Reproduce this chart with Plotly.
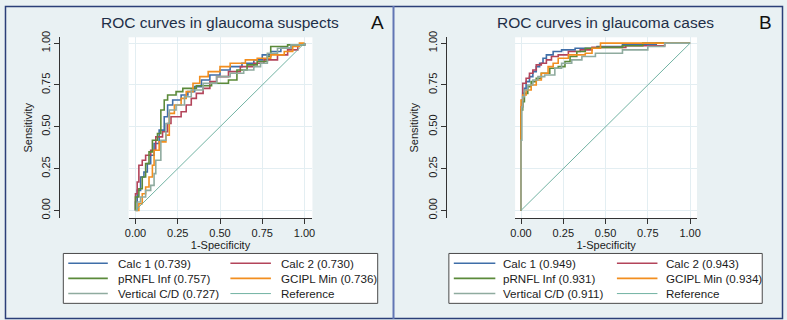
import plotly.graph_objects as go

W, H = 787, 320

# ---------------- data ----------------
labels = ["Calc 1", "Calc 2", "pRNFL Inf", "GCIPL Min", "Vertical C/D"]
colors = ["#3f6ea8", "#b3445a", "#5b8a3a", "#f28e1f", "#8fab9f"]
ref_color = "#72b3a3"

auc_suspects = [0.739, 0.730, 0.757, 0.736, 0.727]
auc_cases = [0.949, 0.943, 0.931, 0.934, 0.911]

# Panel A: glaucoma suspects (1-specificity, sensitivity)
s_calc1_fpr = [0, 0, 0.01, 0.03, 0.05, 0.07, 0.09, 0.11, 0.14, 0.17, 0.19, 0.22, 0.27, 0.31, 0.35, 0.39, 0.44, 0.50, 0.56, 0.63, 0.70, 0.75, 0.80, 0.86, 0.92, 1.0]
s_calc1_tpr = [0, 0.05, 0.12, 0.20, 0.23, 0.28, 0.33, 0.40, 0.48, 0.56, 0.63, 0.66, 0.69, 0.71, 0.74, 0.78, 0.81, 0.84, 0.86, 0.88, 0.90, 0.93, 0.95, 0.97, 0.99, 1.0]
s_calc2_fpr = [0, 0, 0.01, 0.02, 0.04, 0.06, 0.09, 0.12, 0.16, 0.19, 0.21, 0.27, 0.30, 0.33, 0.36, 0.40, 0.44, 0.48, 0.55, 0.62, 0.70, 0.76, 0.84, 0.90, 0.96, 1.0]
s_calc2_tpr = [0, 0.10, 0.17, 0.27, 0.30, 0.33, 0.36, 0.44, 0.47, 0.52, 0.56, 0.59, 0.63, 0.67, 0.70, 0.73, 0.77, 0.80, 0.83, 0.86, 0.88, 0.90, 0.93, 0.96, 0.99, 1.0]
s_prnfl_fpr = [0, 0, 0.02, 0.04, 0.06, 0.08, 0.10, 0.13, 0.15, 0.17, 0.19, 0.24, 0.28, 0.36, 0.45, 0.55, 0.60, 0.66, 0.72, 0.78, 0.80, 0.90, 1.0]
s_prnfl_tpr = [0, 0.08, 0.13, 0.20, 0.28, 0.35, 0.42, 0.46, 0.60, 0.66, 0.69, 0.71, 0.73, 0.745, 0.76, 0.78, 0.84, 0.87, 0.89, 0.92, 0.98, 0.99, 1.0]
s_gcipl_fpr = [0, 0.02, 0.04, 0.06, 0.08, 0.10, 0.11, 0.14, 0.18, 0.20, 0.23, 0.27, 0.30, 0.34, 0.38, 0.43, 0.50, 0.56, 0.65, 0.72, 0.80, 0.88, 0.93, 0.97, 1.0]
s_gcipl_tpr = [0, 0.04, 0.10, 0.14, 0.20, 0.27, 0.36, 0.41, 0.45, 0.58, 0.63, 0.67, 0.71, 0.76, 0.80, 0.83, 0.86, 0.88, 0.90, 0.91, 0.93, 0.95, 0.98, 1.0, 1.0]
s_vcd_fpr = [0, 0.01, 0.03, 0.06, 0.09, 0.11, 0.12, 0.15, 0.18, 0.20, 0.24, 0.29, 0.33, 0.40, 0.48, 0.56, 0.64, 0.70, 0.74, 0.78, 0.84, 0.92, 1.0]
s_vcd_tpr = [0, 0.05, 0.08, 0.12, 0.15, 0.22, 0.30, 0.42, 0.52, 0.60, 0.63, 0.68, 0.72, 0.76, 0.80, 0.82, 0.84, 0.86, 0.88, 0.94, 0.97, 0.99, 1.0]

# Panel B: glaucoma cases
c_calc1_fpr = [0, 0, 0.005, 0.01, 0.02, 0.03, 0.05, 0.07, 0.09, 0.11, 0.13, 0.15, 0.19, 0.24, 0.32, 0.45, 0.60, 0.80, 1.0]
c_calc1_tpr = [0, 0.60, 0.66, 0.70, 0.73, 0.77, 0.80, 0.83, 0.86, 0.88, 0.91, 0.93, 0.95, 0.96, 0.97, 0.98, 0.99, 1.0, 1.0]
c_calc2_fpr = [0, 0, 0.01, 0.03, 0.05, 0.07, 0.09, 0.12, 0.15, 0.18, 0.22, 0.28, 0.35, 0.42, 0.62, 0.85, 1.0]
c_calc2_tpr = [0, 0.62, 0.76, 0.79, 0.82, 0.84, 0.87, 0.88, 0.90, 0.92, 0.93, 0.95, 0.96, 0.975, 0.985, 1.0, 1.0]
c_prnfl_fpr = [0, 0, 0.01, 0.02, 0.04, 0.06, 0.09, 0.12, 0.17, 0.22, 0.26, 0.29, 0.33, 0.38, 0.45, 0.60, 0.72, 1.0]
c_prnfl_tpr = [0, 0.60, 0.65, 0.70, 0.74, 0.77, 0.79, 0.82, 0.85, 0.86, 0.89, 0.92, 0.95, 0.97, 0.975, 0.985, 1.0, 1.0]
c_gcipl_fpr = [0, 0, 0.01, 0.03, 0.06, 0.09, 0.12, 0.16, 0.19, 0.22, 0.28, 0.38, 0.42, 0.47, 1.0]
c_gcipl_tpr = [0, 0.66, 0.69, 0.72, 0.75, 0.78, 0.82, 0.86, 0.88, 0.91, 0.93, 0.94, 0.97, 1.0, 1.0]
c_vcd_fpr = [0, 0, 0.005, 0.01, 0.02, 0.04, 0.07, 0.10, 0.14, 0.20, 0.24, 0.30, 0.36, 0.44, 0.60, 0.75, 0.85, 1.0]
c_vcd_tpr = [0, 0.42, 0.62, 0.68, 0.72, 0.75, 0.78, 0.80, 0.81, 0.85, 0.88, 0.90, 0.92, 0.94, 0.96, 0.98, 1.0, 1.0]

ref_x = [0, 1]
ref_y = [0, 1]

tick_vals = [0, 0.25, 0.5, 0.75, 1.0]
tick_text = ["0.00", "0.25", "0.50", "0.75", "1.00"]

titles = ["ROC curves in glaucoma suspects", "ROC curves in glaucoma cases"]
panel_letters = ["A", "B"]
x_title = "1-Specificity"
y_title = "Sensitivity"

suspects = [(s_calc1_fpr, s_calc1_tpr), (s_calc2_fpr, s_calc2_tpr), (s_prnfl_fpr, s_prnfl_tpr),
            (s_gcipl_fpr, s_gcipl_tpr), (s_vcd_fpr, s_vcd_tpr)]
cases = [(c_calc1_fpr, c_calc1_tpr), (c_calc2_fpr, c_calc2_tpr), (c_prnfl_fpr, c_prnfl_tpr),
         (c_gcipl_fpr, c_gcipl_tpr), (c_vcd_fpr, c_vcd_tpr)]

# ---------------- layout helpers (pixels -> paper) ----------------
def fx(px):
    return px / W

def fy(py):
    return 1 - py / H

FONT = "Liberation Sans, Arial, sans-serif"
TXT = "#1b1b1b"
BG = "#e9f1f3"
GRID = "#e3eef2"

# panel geometry (pixels)
panels = [
    dict(x0=125, x1=311, zero=132, yline=55, title_x=217, letter_x=377,
         leg=(59, 377), leg_cols=((64, 104, 112), (228, 269, 277))),
    dict(x0=516, x1=700, zero=522, yline=446, title_x=607, letter_x=769,
         leg=(449, 766), leg_cols=((454, 496, 502), (619, 660, 667))),
]
PY0, PY1 = 32, 217      # plot region top/bottom
Y_ZERO = 209            # pixel of sensitivity 0
UNIT = 171              # pixels per unit

fig = go.Figure()

datasets = [suspects, cases]
aucs = [auc_suspects, auc_cases]
for p, (geo, data) in enumerate(zip(panels, datasets)):
    xa = "x" if p == 0 else "x2"
    ya = "y" if p == 0 else "y2"
    for i, (xs, ys) in enumerate(data):
        fig.add_trace(go.Scatter(x=xs, y=ys, mode="lines", line=dict(color=colors[i], width=1.6, shape="hv"),
                                 xaxis=xa, yaxis=ya, showlegend=False,
                                 name=f"{labels[i]} ({aucs[p][i]:.3f})"))
    fig.add_trace(go.Scatter(x=ref_x, y=ref_y, mode="lines", line=dict(color=ref_color, width=1),
                             xaxis=xa, yaxis=ya, showlegend=False, name="Reference"))

layout = dict(
    width=W, height=H, margin=dict(l=0, r=0, t=0, b=0),
    paper_bgcolor=BG, plot_bgcolor="white",
    font=dict(family=FONT, size=11, color=TXT),
    showlegend=False,
)

shapes = []
annotations = []
for p, geo in enumerate(panels):
    sx = "" if p == 0 else "2"
    xr = [(geo["x0"] - geo["zero"]) / UNIT, (geo["x1"] - geo["zero"]) / UNIT]
    yr = [(Y_ZERO - PY1) / UNIT, (Y_ZERO - PY0) / UNIT]
    layout["xaxis" + sx] = dict(
        domain=[fx(geo["x0"]), fx(geo["x1"])], range=xr, anchor="y" + sx,
        tickvals=tick_vals, ticktext=tick_text, ticks="outside", ticklen=5, tickcolor="#333",
        showline=True, linecolor="#333", linewidth=1, showgrid=True, gridcolor=GRID, gridwidth=1,
        zeroline=False, tickfont=dict(size=11, color=TXT),
        title=dict(text=x_title, font=dict(size=11, color=TXT), standoff=2),
    )
    layout["yaxis" + sx] = dict(
        domain=[fy(PY1), fy(PY0)], range=yr, anchor="free", position=fx(geo["yline"]),
        tickvals=tick_vals, ticktext=tick_text, ticks="outside", ticklen=5, tickcolor="#333",
        showline=True, linecolor="#333", linewidth=1, showgrid=True, gridcolor=GRID, gridwidth=1,
        zeroline=False, tickangle=-90, tickfont=dict(size=11, color=TXT),
        title=dict(text=y_title, font=dict(size=11, color=TXT), standoff=4),
    )
    # titles
    annotations.append(dict(text=titles[p], x=fx(geo["title_x"]), y=fy(17), xref="paper", yref="paper",
                            showarrow=False, xanchor="center", yanchor="middle",
                            font=dict(size=15.5, color="#1e2f48", family=FONT)))
    annotations.append(dict(text=panel_letters[p], x=fx(geo["letter_x"]), y=fy(17), xref="paper", yref="paper",
                            showarrow=False, xanchor="center", yanchor="middle",
                            font=dict(size=19, color="#111", family=FONT)))
    # legend box
    lx0, lx1 = geo["leg"]
    shapes.append(dict(type="rect", xref="paper", yref="paper", x0=fx(lx0), x1=fx(lx1), y0=fy(304), y1=fy(253),
                       line=dict(color="#4a4a4a", width=1), fillcolor="white", layer="below"))
    entries = [(f"{labels[i]} ({aucs[p][i]:.3f})", colors[i], 1.6) for i in range(len(labels))]
    entries.append(("Reference", ref_color, 1))
    rows = [263, 278.5, 294]
    for k, (txt, col, lw) in enumerate(entries):
        r, c = divmod(k, 2)
        l0, l1, tx = geo["leg_cols"][c]
        shapes.append(dict(type="line", xref="paper", yref="paper", x0=fx(l0), x1=fx(l1),
                           y0=fy(rows[r]), y1=fy(rows[r]), line=dict(color=col, width=lw)))
        annotations.append(dict(text=txt, x=fx(tx), y=fy(rows[r]), xref="paper", yref="paper",
                                showarrow=False, xanchor="left", yanchor="middle",
                                font=dict(size=11.6, color=TXT, family=FONT)))

# frame and divider
shapes.append(dict(type="rect", xref="paper", yref="paper", x0=fx(0.5), x1=fx(786.5), y0=fy(319.5), y1=fy(0.5),
                   line=dict(color="#2b3f78", width=1.5)))
shapes.append(dict(type="line", xref="paper", yref="paper", x0=fx(393), x1=fx(393), y0=0, y1=1,
                   line=dict(color="#6276b4", width=2)))

layout["shapes"] = shapes
layout["annotations"] = annotations
fig.update_layout(**layout)

fig.write_html("out.html", config={"displayModeBar": False, "staticPlot": True},
               post_script="document.body.style.margin='0';document.body.style.overflow='hidden';")
